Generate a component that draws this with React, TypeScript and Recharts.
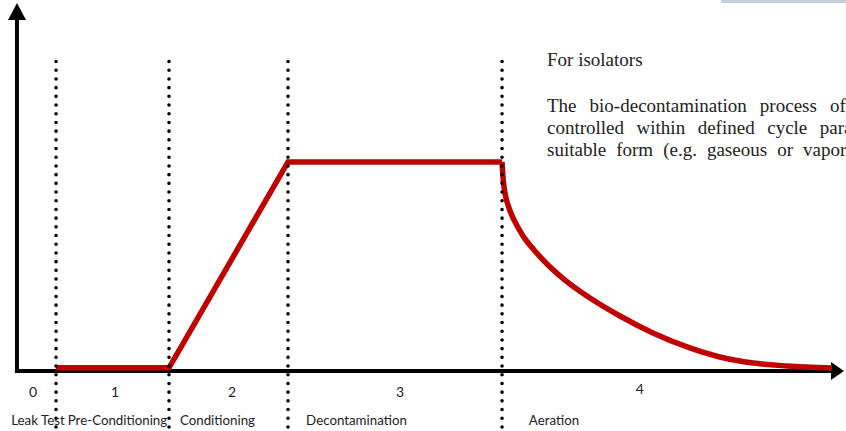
import React from 'react';
import { ComposedChart, Line, XAxis, YAxis, ReferenceLine } from 'recharts';

// phase boundaries (time units)
const phaseBoundaries = [4.72, 18.38, 32.77, 58.65];
const phaseDigits = ['0', '1', '2', '3', '4'];
const digitTicks = [1.93, 11.85, 26.0, 46.31, 75.3];
const phaseNames = ['Leak Test', 'Pre-Conditioning', 'Conditioning', 'Decontamination', 'Aeration'];
const nameTicks = [2.54, 12.15, 24.24, 41.05, 64.93];

// red concentration profile
const rampTime = [4.72, 18.38, 32.77, 58.65];
const rampLevel = [1.5, 1.5, 100, 100];
const aerationTime = [58.65, 58.77, 59.01, 59.49, 60.22, 61.19, 62.52, 64.21, 66.26, 69.29, 72.91, 76.9, 81.02, 85.0, 89.0, 93.11, 98.55];
const aerationLevel = [100, 92.3, 85.1, 78.0, 71.3, 64.6, 57.9, 50.7, 43.5, 34.9, 26.3, 18.2, 11.5, 6.7, 3.8, 2.4, 1.4];

const noteTitle = 'For isolators';
const noteLines = [
  'The bio-decontamination process of',
  'controlled within defined cycle parameters',
  'suitable form (e.g. gaseous or vaporized',
];
const noteWordSpacing = [8.3, 7.8, 5.3];

const rampData = rampTime.map((t, i) => ({ t, v: rampLevel[i] }));
const aerationData = aerationTime.map((t, i) => ({ t, v: aerationLevel[i] }));

const labelFont = 'Lato, "Open Sans", sans-serif';

const DigitTick = (props: any) => {
  const { x, y, index } = props;
  const lift = index === 4 ? -4 : -1;
  return (
    <text x={x} y={y + 27 + lift} textAnchor="middle" fontFamily={labelFont} fontSize={14} fill="#222">
      {phaseDigits[index]}
    </text>
  );
};

const NameTick = (props: any) => {
  const { x, y, index } = props;
  return (
    <text x={x} y={y + 26} textAnchor="middle" fontFamily={labelFont} fontSize={13.3} fill="#222">
      {phaseNames[index]}
    </text>
  );
};

const YArrowAxis = (props: any) => {
  const { x1, y1, x2, y2 } = props;
  return (
    <g>
      <line x1={x1} y1={y1} x2={x2} y2={y2 + 16} stroke="#000" strokeWidth={4} />
      <polygon points={`${x2},${y2} ${x2 - 9},${y2 + 17} ${x2 + 9},${y2 + 17}`} fill="#000" />
    </g>
  );
};

const XArrowAxis = (props: any) => {
  const { x1, y1, x2, y2 } = props;
  return (
    <g>
      <line x1={x1} y1={y1} x2={x2 - 12} y2={y2} stroke="#000" strokeWidth={4} />
      <polygon points={`${x2},${y2} ${x2 - 13},${y2 - 9} ${x2 - 13},${y2 + 9}`} fill="#000" />
    </g>
  );
};

export default function App() {
  return (
    <div style={{ position: 'absolute', left: 0, top: 0, width: 846, height: 431, background: '#fff', overflow: 'hidden' }}>
      <ComposedChart width={846} height={431} margin={{ top: 3, right: 2, bottom: 0, left: 17 }}>
        <XAxis
          xAxisId={0}
          type="number"
          dataKey="t"
          domain={[0, 100]}
          ticks={digitTicks}
          interval={0}
          height={28}
          axisLine={false}
          tickLine={false}
          tickSize={0}
          tickMargin={0}
          tick={DigitTick}
        />
        <XAxis
          xAxisId="n"
          type="number"
          dataKey="t"
          domain={[0, 100]}
          ticks={nameTicks}
          interval={0}
          height={32}
          axisLine={false}
          tickLine={false}
          tickSize={0}
          tickMargin={0}
          tick={NameTick}
        />
        <YAxis type="number" domain={[0, 176]} hide />
        <ReferenceLine
          segment={[{ x: -0.25, y: 0 }, { x: 100, y: 0 }]}
          ifOverflow="visible"
          shape={XArrowAxis}
        />
        <ReferenceLine
          segment={[{ x: 0, y: -1 }, { x: 0, y: 176 }]}
          ifOverflow="visible"
          shape={YArrowAxis}
        />
        <Line
          xAxisId="n"
          data={rampData}
          dataKey="v"
          type="linear"
          stroke="none"
          strokeWidth={0}
          dot={false}
          activeDot={false}
          legendType="none"
          isAnimationActive={false}
        />
        <Line
          data={rampData}
          dataKey="v"
          type="linear"
          stroke="#c00000"
          strokeWidth={5.5}
          dot={false}
          isAnimationActive={false}
        />
        <Line
          data={aerationData}
          dataKey="v"
          type="monotone"
          stroke="#c00000"
          strokeWidth={5.5}
          dot={false}
          isAnimationActive={false}
        />
        {phaseBoundaries.map((b) => (
          <ReferenceLine
            key={b}
            segment={[{ x: b, y: 148 }, { x: b, y: -29.5 }]}
            ifOverflow="visible"
            stroke="#000"
            strokeWidth={3.6}
            strokeDasharray="0 8.7"
            strokeLinecap="round"
          />
        ))}
      </ComposedChart>
      <svg width={846} height={431} style={{ position: 'absolute', left: 0, top: 0, pointerEvents: 'none' }}>
        <rect x={721} y={0} width={125} height={3} fill="#c6cdd9" />
        <text x={547} y={66} fontFamily='"Liberation Serif", serif' fontSize={19} fill="#222">
          {noteTitle}
        </text>
        {noteLines.map((l, i) => (
          <text
            key={i}
            x={547}
            y={112 + i * 22}
            fontFamily='"Liberation Serif", serif'
            fontSize={19}
            fill="#222"
            style={{ wordSpacing: noteWordSpacing[i] }}
          >
            {l}
          </text>
        ))}
      </svg>
    </div>
  );
}
